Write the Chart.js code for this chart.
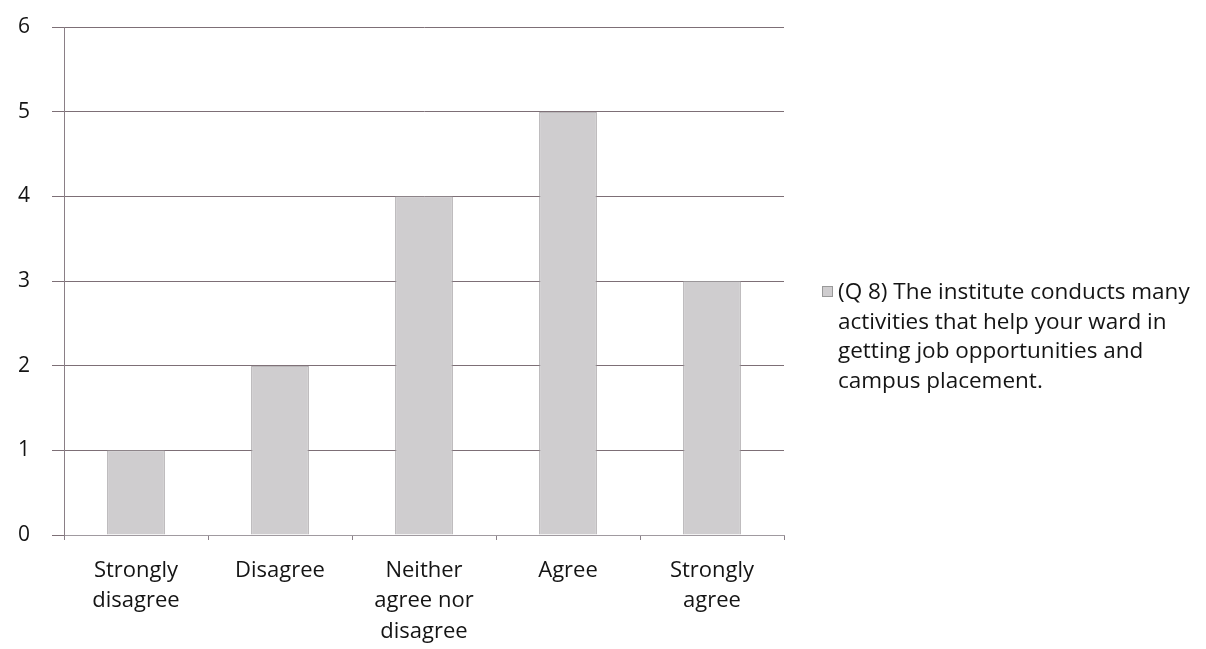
<!DOCTYPE html>
<html>
<head>
<meta charset="utf-8">
<script src="https://cdn.jsdelivr.net/npm/chart.js@4.4.0/dist/chart.umd.min.js"></script>
<style>
  html, body { margin: 0; padding: 0; background: #ffffff; }
  #wrap { position: relative; width: 1206px; height: 649px; }
  #legend { position: absolute; left: 820px; top: 276px; width: 386px;
    font-family: "Open Sans", sans-serif; font-size: 22.5px; line-height: 29.5px; color: #141414; }
  #legend .box { position: absolute; left: 2px; top: 10px; width: 9px; height: 9px;
    background: #cfcdcf; border: 1px solid #999; }
  #legend .txt { margin-left: 18px; white-space: nowrap; }
</style>
</head>
<body>
<div id="wrap">
  <canvas id="c" width="1206" height="649"></canvas>
  <div id="legend"><span class="box"></span><div class="txt" id="legendText"></div></div>
</div>
<script>
const categories = [["Strongly", "disagree"], "Disagree", ["Neither", "agree nor", "disagree"], "Agree", ["Strongly", "agree"]];
const seriesName = "(Q 8) The institute conducts many activities that help your ward in getting job opportunities and campus placement.";
const seriesLines = ["(Q 8) The institute conducts many", "activities that help your ward in", "getting job opportunities and", "campus placement."];
const values = [1, 2, 4, 5, 3];
const yTicks = [0, 1, 2, 3, 4, 5, 6];

document.getElementById('legendText').innerHTML = seriesLines.join('<br>');

new Chart(document.getElementById('c'), {
  type: 'bar',
  data: {
    labels: categories,
    datasets: [{
      label: seriesName,
      data: values,
      backgroundColor: '#cfcdcf',
      borderColor: '#9a9699',
      borderWidth: 1,
      barPercentage: 0.4,
      categoryPercentage: 1.0
    }]
  },
  options: {
    responsive: false,
    animation: false,
    layout: { padding: { left: 0, right: 422, top: 27, bottom: 0 } },
    plugins: { legend: { display: false }, tooltip: { enabled: false } },
    scales: {
      x: {
        grid: { offset: true, drawOnChartArea: false, tickLength: 5, color: '#8a8088' },
        border: { color: '#a09aa0', width: 1 },
        ticks: { color: '#141414', font: { family: 'Open Sans', size: 22, lineHeight: 1.39 }, padding: 15, maxRotation: 0, autoSkip: false },
        afterFit: (s) => { s.height = 114; s.paddingLeft = 0; s.paddingRight = 0; }
      },
      y: {
        min: 0, max: 6,
        afterBuildTicks: (s) => { s.ticks = yTicks.map(v => ({ value: v })); },
        grid: { color: '#7d6f76', lineWidth: 1, tickLength: 12 },
        border: { color: '#8a7f86', width: 1 },
        ticks: { color: '#141414', font: { family: 'Open Sans', size: 21 }, padding: 22 },
        afterFit: (s) => { s.width = 64; s.paddingTop = 0; s.paddingBottom = 0; }
      }
    }
  }
});
</script>
</body>
</html>
